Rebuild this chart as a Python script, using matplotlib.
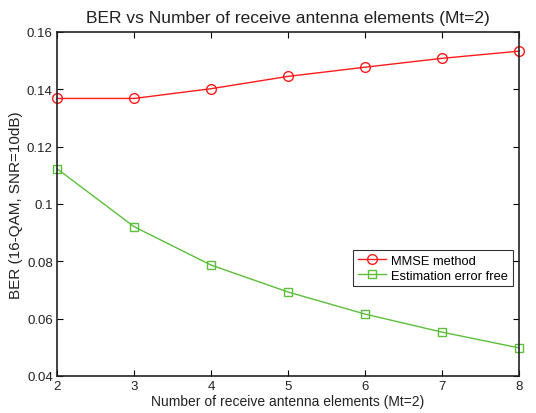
import matplotlib
matplotlib.use("Agg")
from matplotlib import pyplot as plt

plt.rcParams['font.family'] = ['Liberation Sans', 'DejaVu Sans']

antennas = [2, 3, 4, 5, 6, 7, 8]
ber_mmse = [0.1368, 0.1368, 0.1402, 0.1445, 0.1477, 0.1508, 0.1533]
ber_free = [0.1123, 0.0921, 0.0787, 0.0693, 0.0616, 0.0553, 0.0498]
yticks = [0.04, 0.06, 0.08, 0.1, 0.12, 0.14, 0.16]
yticklabels = ['0.04', '0.06', '0.08', '0.1', '0.12', '0.14', '0.16']

fig = plt.figure(figsize=(5.36, 4.14), dpi=100)
ax = fig.add_axes([0.1063, 0.0894, 0.862, 0.831])

ax.plot(antennas, ber_mmse, '-o', color='#ff1a1a', lw=1, ms=7, mfc='none',
        mew=1, clip_on=False, label='MMSE method')
ax.plot(antennas, ber_free, '-s', color='#5cbf3a', lw=1, ms=6, mfc='none',
        mew=1, clip_on=False, label='Estimation error free')

ax.set_xlim(2, 8)
ax.set_ylim(0.04, 0.16)
ax.set_xticks(antennas)
ax.set_yticks(yticks)
ax.set_yticklabels(yticklabels)
ax.tick_params(direction='in', top=True, right=True, labelsize=9.5, length=4,
               width=0.8, pad=3, labelcolor='#222222')
for s in ax.spines.values():
    s.set_linewidth(1.2)
    s.set_color('#222222')

ax.set_title('BER vs Number of receive antenna elements (Mt=2)', fontsize=12.5,
             pad=7, color='#222222')
ax.set_xlabel('Number of receive antenna elements (Mt=2)', fontsize=10,
              labelpad=1, color='#222222')
ax.set_ylabel('BER (16-QAM, SNR=10dB)', fontsize=11, labelpad=3, color='#222222')

leg = ax.legend(loc='upper left', bbox_to_anchor=(0.641, 0.366), fontsize=9.3,
                frameon=True, fancybox=False, borderaxespad=0, handlelength=2.2,
                borderpad=0.35, labelspacing=0.25, handletextpad=0.4)
leg.get_frame().set_edgecolor('black')
leg.get_frame().set_linewidth(0.8)

fig.savefig('out.png', dpi=100)
